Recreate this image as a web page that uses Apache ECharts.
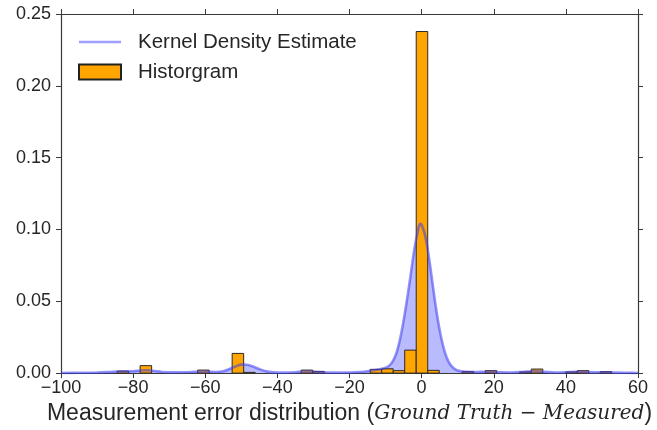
<!DOCTYPE html>
<html>
<head>
<meta charset="utf-8">
<script src="https://cdn.jsdelivr.net/npm/echarts@6/dist/echarts.min.js"></script>
<style>
html,body{margin:0;padding:0;background:#fff;}
#chart{width:657px;height:430px;}
</style>
</head>
<body>
<div id="chart"></div>
<script>
// Histogram: left bin edges, common bin width, density heights
var histLeft = [-84.44, -78.06, -62.11, -52.54, -49.35, -33.40, -30.21, -14.26, -11.07, -7.88, -4.69, -1.50, 1.69, 11.26, 17.64, 27.21, 30.40, 39.97, 43.16, 49.54];
var histHeight = [0.0014, 0.0052, 0.0021, 0.0137, 0.0005, 0.0021, 0.0012, 0.0026, 0.0030, 0.0017, 0.0160, 0.2378, 0.0019, 0.0010, 0.0017, 0.0008, 0.0028, 0.0008, 0.0017, 0.0010];
var binWidth = 3.19;

// Kernel density estimate samples
var kdeX = [-100, -95, -90, -87, -84, -82, -80, -78, -76, -74, -72, -69, -66, -63, -61, -59, -57, -55, -53, -51, -50, -49, -48, -47, -45, -43, -41, -38, -35, -33, -31, -29, -26, -23, -20, -17, -15, -13, -11, -10, -9, -8, -7, -6, -5, -4, -3, -2, -1, -0.4, 0, 1, 2, 3, 4, 5, 6, 7, 8, 9, 10, 12, 15, 18, 20, 22, 25, 28, 31, 34, 37, 40, 43, 45, 48, 51, 54, 57, 60];
var kdeY = [0.0001, 0.0002, 0.0004, 0.0007, 0.0011, 0.0012, 0.0013, 0.0018, 0.0020, 0.0015, 0.0008, 0.0005, 0.0006, 0.0009, 0.0011, 0.0009, 0.0008, 0.0013, 0.0032, 0.0052, 0.0059, 0.0060, 0.0056, 0.0048, 0.0028, 0.0012, 0.0005, 0.0003, 0.0006, 0.0011, 0.0011, 0.0007, 0.0004, 0.0003, 0.0004, 0.0008, 0.0013, 0.0021, 0.0030, 0.0037, 0.0052, 0.0082, 0.0138, 0.0235, 0.0365, 0.0520, 0.0690, 0.0865, 0.0995, 0.1040, 0.1032, 0.0955, 0.0810, 0.0630, 0.0450, 0.0300, 0.0185, 0.0105, 0.0058, 0.0032, 0.0018, 0.0009, 0.0008, 0.0009, 0.0008, 0.0005, 0.0004, 0.0008, 0.0013, 0.0009, 0.0004, 0.0006, 0.0009, 0.0008, 0.0006, 0.0006, 0.0003, 0.0002, 0.0001];

// Axis ticks
var xMin = -100, xMax = 60, xStep = 20;
var yMin = 0, yMax = 0.25, yStep = 0.05;

var histData = histLeft.map(function (l, i) { return [l, l + binWidth, histHeight[i]]; });
var kdeData = kdeX.map(function (x, i) { return [x, kdeY[i]]; });

var textColor = '#262626';
var spine = '#3a3a3a';
var font = 'Liberation Sans, Arial, sans-serif';

var chart = echarts.init(document.getElementById('chart'), null, {renderer: 'canvas'});

function xFmt(v) { return v < 0 ? '\u2212' + Math.abs(v) : String(v); }

var axisCommon = {
  axisLine: {show: true, onZero: false, lineStyle: {color: spine, width: 1.2}},
  axisTick: {show: true, inside: false, length: 5, lineStyle: {color: spine, width: 1}},
  splitLine: {show: false}
};

chart.setOption({
  animation: false,
  backgroundColor: '#fff',
  grid: {left: 61, right: 19, top: 14, bottom: 55, containLabel: false},
  legend: {
    orient: 'vertical',
    left: 73,
    top: 26,
    itemWidth: 42,
    itemHeight: 15,
    itemGap: 8,
    textStyle: {fontFamily: font, fontSize: 20.5, color: textColor, lineHeight: 22, padding: [0, 0, 0, 12]},
    data: [
      {name: 'Kernel Density Estimate', icon: 'path://M0,0 L42,0 L42,2.6 L0,2.6 Z', itemStyle: {color: 'rgba(80,80,255,0.55)'}},
      {name: 'Historgram', icon: 'rect'}
    ]
  },
  xAxis: [
    Object.assign({}, axisCommon, {
      type: 'value', min: xMin, max: xMax, interval: xStep, position: 'bottom',
      axisLabel: {formatter: xFmt, fontFamily: font, fontSize: 18, color: textColor, margin: 6},
      name: '{a|Measurement error distribution (}{b|Ground Truth \u2212 Measured}{a|)}',
      nameLocation: 'middle', nameGap: 27,
      nameTextStyle: {rich: {
        a: {fontFamily: font, fontSize: 23, color: textColor},
        b: {fontFamily: 'DejaVu Serif, Liberation Serif, serif', fontStyle: 'italic', fontSize: 20, color: textColor}
      }}
    }),
    Object.assign({}, axisCommon, {
      type: 'value', min: xMin, max: xMax, interval: xStep, position: 'top',
      axisLabel: {show: false}
    })
  ],
  yAxis: [
    Object.assign({}, axisCommon, {
      type: 'value', min: yMin, max: yMax, interval: yStep, position: 'left',
      axisLabel: {formatter: function (v) { return v.toFixed(2); }, fontFamily: font, fontSize: 18, color: textColor, margin: 10}
    }),
    Object.assign({}, axisCommon, {
      type: 'value', min: yMin, max: yMax, interval: yStep, position: 'right',
      axisLabel: {show: false}
    })
  ],
  series: [
    {
      name: 'kdeFill', type: 'line', data: kdeData, smooth: 0.35, symbol: 'none', z: 1,
      lineStyle: {width: 0, color: 'rgba(0,0,255,0.4)'},
      areaStyle: {color: 'rgba(60,60,255,0.5)', origin: 'start'},
      silent: true
    },
    {
      name: 'Historgram', type: 'custom', z: 2,
      itemStyle: {color: '#FFA500', borderColor: '#222', borderWidth: 1},
      data: histData,
      encode: {x: [0, 1], y: 2},
      renderItem: function (params, api) {
        var p0 = api.coord([api.value(0), api.value(2)]);
        var p1 = api.coord([api.value(1), 0]);
        return {
          type: 'rect',
          shape: {x: p0[0], y: p0[1], width: p1[0] - p0[0], height: p1[1] - p0[1]},
          style: {fill: '#FFA500', stroke: '#2a2a2a', lineWidth: 1}
        };
      }
    },
    {
      name: 'Kernel Density Estimate', type: 'line', data: kdeData, smooth: 0.35, symbol: 'none', z: 3,
      lineStyle: {width: 2.6, color: 'rgba(60,60,240,0.55)'},
      itemStyle: {color: 'rgba(80,80,255,0.55)'}
    }
  ]
});
</script>
</body>
</html>
